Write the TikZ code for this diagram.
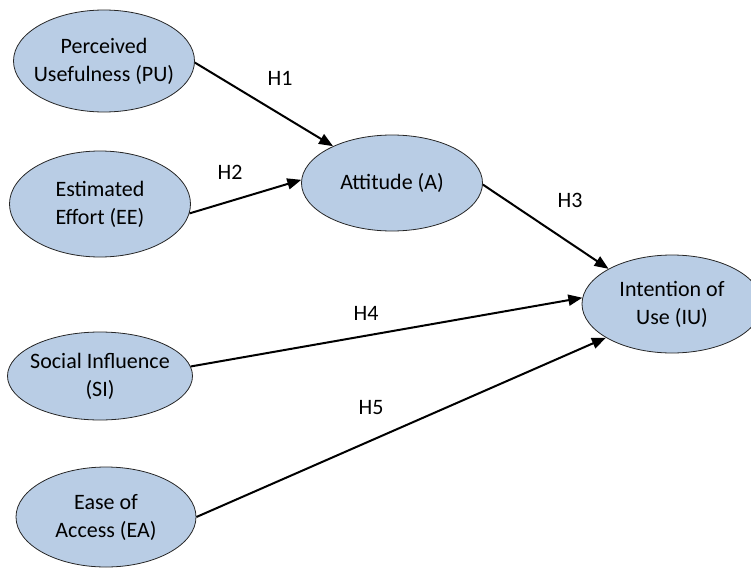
\documentclass[tikz,border=0pt]{standalone}
\usepackage{fontspec}
\setmainfont{Carlito}
\usepackage{tikz}
\usetikzlibrary{shapes.geometric,arrows.meta}
\definecolor{boxblue}{HTML}{B9CDE5}

\tikzset{
  construct/.style={ellipse, draw=black!85, line width=0.8pt, fill=boxblue,
    inner sep=-15pt, align=center, font=\fontsize{22}{28}\selectfont},
  path/.style={line width=2pt, -{Triangle[length=14pt,width=11pt]}},
  hyp/.style={font=\fontsize{22}{28}\selectfont}
}

\begin{document}
\begin{tikzpicture}[x=1pt,y=-1pt]
  \useasboundingbox (0,0) rectangle (751,567);
  % constructs
  \node[construct, minimum width=181pt, minimum height=102pt] (pu) at (104,61) {Perceived\\Usefulness (PU)};
  \node[construct, minimum width=181pt, minimum height=106pt] (ee) at (100,204) {Estimated\\Effort (EE)};
  \node[construct, minimum width=181pt, minimum height=96pt] (a) at (392,183) {Attitude (A)};
  \node[construct, minimum width=180pt, minimum height=98pt] (iu) at (672,304) {Intention of\\Use (IU)};
  \node[construct, minimum width=185pt, minimum height=88pt] (si) at (100,376) {Social Influence\\(SI)};
  \node[construct, minimum width=180pt, minimum height=100pt] (ea) at (106,517) {Ease of\\Access (EA)};
  % hypotheses
  \draw[path] (pu.-1) -- (a.148);
  \draw[path] (ee.-6) -- (a.178);
  \draw[path] (a.-1) -- (iu.151);
  \draw[path] (si.6) -- (iu.176);
  \draw[path] (ea.0) -- (iu.207);
  \foreach \name/\x/\y/\txt in {h1/280/78/H1, h2/230/172/H2, h3/570/200/H3, h4/366/313/H4, h5/371/408/H5}
    \node[hyp] (\name) at (\x,\y) {\txt};
\end{tikzpicture}
\end{document}
